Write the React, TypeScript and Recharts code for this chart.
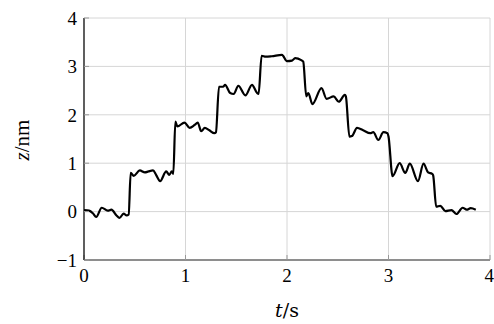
import { LineChart, Line, XAxis, YAxis, CartesianGrid } from 'recharts';

const times = [
  0, 0.05, 0.09, 0.12, 0.175, 0.234, 0.27, 0.32, 0.35, 0.39, 0.42, 0.44,
  0.46, 0.49, 0.55, 0.6, 0.635, 0.68, 0.71, 0.75, 0.81, 0.84, 0.865, 0.88,
  0.9, 0.92, 0.99, 1.04, 1.09, 1.12, 1.155, 1.19, 1.235, 1.285, 1.3,
  1.33, 1.37, 1.39, 1.44, 1.475, 1.52, 1.59, 1.655, 1.705, 1.72,
  1.75, 1.79, 1.85, 1.95, 2.0, 2.05, 2.08, 2.14, 2.16,
  2.19, 2.21, 2.25, 2.34, 2.39, 2.46, 2.51, 2.57, 2.58,
  2.615, 2.64, 2.69, 2.75, 2.82, 2.85, 2.9, 2.95, 2.99, 3.0,
  3.04, 3.11, 3.165, 3.21, 3.29, 3.345, 3.39, 3.43, 3.44,
  3.47, 3.51, 3.56, 3.62, 3.67, 3.73, 3.77, 3.81, 3.86,
];

const heights = [
  0.03, 0.02, -0.04, -0.11, 0.08, 0.02, 0.04, -0.08, -0.13, -0.04, -0.08, -0.06,
  0.8, 0.74, 0.85, 0.81, 0.83, 0.85, 0.76, 0.63, 0.83, 0.76, 0.83, 0.78,
  1.86, 1.76, 1.84, 1.73, 1.79, 1.84, 1.66, 1.73, 1.68, 1.62, 1.64,
  2.58, 2.58, 2.62, 2.45, 2.43, 2.6, 2.4, 2.62, 2.45, 2.43,
  3.22, 3.2, 3.21, 3.24, 3.11, 3.12, 3.17, 3.13, 3.1,
  2.38, 2.45, 2.22, 2.55, 2.33, 2.38, 2.27, 2.41, 2.38,
  1.55, 1.56, 1.73, 1.68, 1.62, 1.64, 1.48, 1.64, 1.62, 1.55,
  0.73, 1.0, 0.8, 0.99, 0.63, 0.99, 0.81, 0.78, 0.75,
  0.1, 0.12, 0.01, 0.03, -0.05, 0.08, 0.04, 0.07, 0.04,
];

const xTicks = [0, 1, 2, 3, 4];
const yTicks = [-1, 0, 1, 2, 3, 4];

const data = times.map((t, i) => ({ t, z: heights[i] }));

const font = 'Liberation Serif';

const fmt = (v: number) => String(v).replace('-', '\u2212');

const labelStyle = {
  position: 'absolute' as const,
  fontFamily: 'DejaVu Serif',
  fontSize: 19,
  color: '#000',
  whiteSpace: 'nowrap' as const,
  lineHeight: '24px',
};

export default function App() {
  return (
    <div style={{ position: 'absolute', left: 0, top: 0, width: 494, height: 324, background: '#fff' }}>
      <LineChart width={494} height={324} data={data} margin={{ top: 18, right: 4, bottom: 0, left: 0 }}>
        <CartesianGrid stroke="#d6d6d6" strokeWidth={1} />
        <XAxis
          dataKey="t"
          type="number"
          domain={[0, 4]}
          ticks={xTicks}
          height={64}
          tickSize={-5}
          tickMargin={14}
          tickLine={{ stroke: '#999' }}
          axisLine={{ stroke: '#333', strokeWidth: 1.2 }}
          tick={{ fill: '#000', fontSize: 19, fontFamily: font }}
          tickFormatter={fmt}
        />
        <YAxis
          type="number"
          domain={[-1, 4]}
          ticks={yTicks}
          width={84}
          tickSize={-5}
          tickMargin={12}
          tickLine={{ stroke: '#999' }}
          axisLine={{ stroke: '#000', strokeWidth: 1.2 }}
          tick={{ fill: '#000', fontSize: 19, fontFamily: font }}
          tickFormatter={fmt}
        />
        <Line
          dataKey="z"
          type="monotone"
          stroke="#000"
          strokeWidth={2.2}
          dot={false}
          isAnimationActive={false}
        />
      </LineChart>
      <div style={{ ...labelStyle, left: 287, top: 310, transform: 'translate(-50%, -50%)' }}>
        <i>t</i>/s
      </div>
      <div style={{ ...labelStyle, fontFamily: font, fontSize: 21, left: 22, top: 140, transform: 'translate(-50%, -50%) rotate(-90deg)' }}>
        <i>z</i>/nm
      </div>
    </div>
  );
}
